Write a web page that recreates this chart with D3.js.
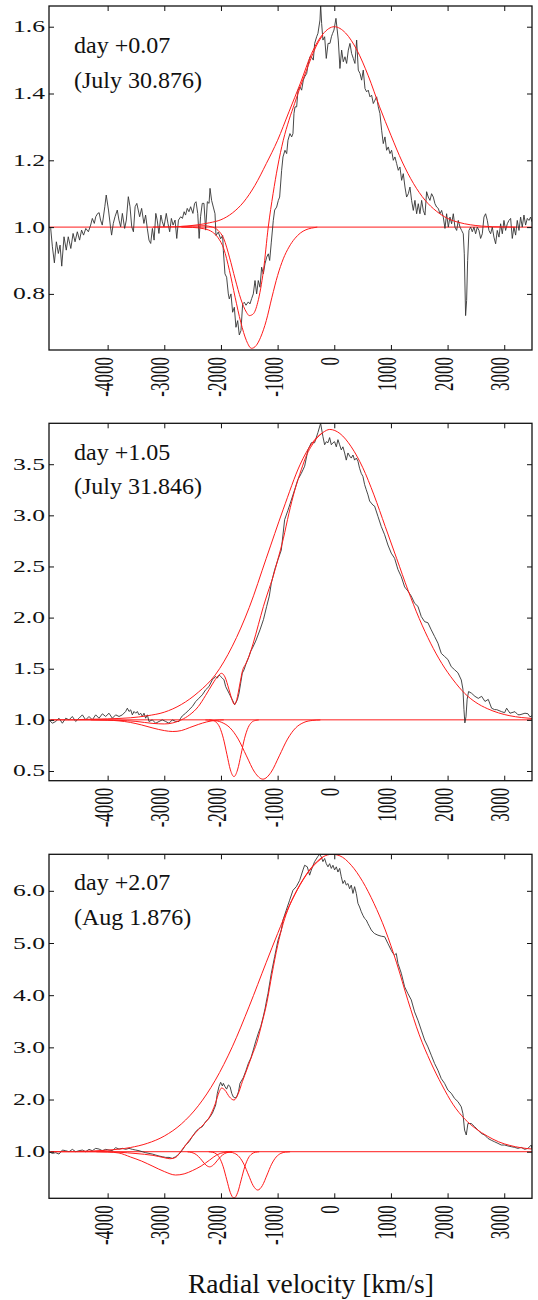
<!DOCTYPE html>
<html><head><meta charset="utf-8">
<script src="https://cdn.jsdelivr.net/npm/d3@7"></script>
<style>body{margin:0;background:#fff}svg{display:block}</style>
</head><body><svg id="c" width="538" height="1300"></svg>
<script>
// ---------- DATA (velocity km/s, normalized flux) ----------
const xTicks = [-4000,-3000,-2000,-1000,0,1000,2000,3000];
const p1YTicks = [0.8,1.0,1.2,1.4,1.6];
const p2YTicks = [0.5,1.0,1.5,2.0,2.5,3.0,3.5];
const p3YTicks = [1.0,2.0,3.0,4.0,5.0,6.0];
const p1Label = ["day +0.07","(July 30.876)"];
const p2Label = ["day +1.05","(July 31.846)"];
const p3Label = ["day +2.07","(Aug 1.876)"];
const xTitle = "Radial velocity [km/s]";

const p1Spectrum = [[-5030,1.001],[-5005,0.996],[-4975,0.941],[-4940,0.893],[-4905,0.956],[-4870,0.921],[-4840,0.946],[-4810,0.883],[-4770,0.971],[-4730,0.931],[-4695,0.971],[-4650,0.936],[-4610,0.981],[-4575,0.956],[-4535,0.986],[-4495,0.961],[-4460,0.991],[-4425,0.976],[-4385,0.996],[-4340,0.986],[-4300,1.006],[-4270,1.026],[-4235,1.011],[-4210,1.031],[-4175,1.041],[-4150,1.043],[-4125,1.021],[-4095,1.006],[-4050,1.061],[-4025,1.096],[-3985,1.051],[-3950,1.001],[-3930,0.976],[-3900,1.011],[-3870,1.031],[-3830,1.051],[-3800,1.021],[-3770,1.001],[-3740,1.041],[-3700,0.996],[-3670,1.021],[-3635,1.091],[-3605,1.061],[-3575,1.001],[-3545,0.986],[-3515,1.061],[-3485,1.071],[-3460,1.051],[-3435,1.031],[-3400,1.056],[-3360,1.011],[-3330,1.036],[-3300,0.996],[-3270,0.961],[-3240,0.951],[-3210,0.996],[-3180,0.961],[-3150,1.041],[-3125,1.021],[-3095,0.981],[-3060,1.036],[-3035,1.016],[-3005,1.001],[-2965,1.041],[-2935,1.011],[-2905,0.986],[-2875,1.026],[-2845,1.006],[-2810,1.021],[-2780,0.966],[-2750,1.021],[-2710,1.031],[-2680,1.026],[-2650,1.046],[-2625,1.036],[-2595,1.056],[-2565,1.046],[-2535,1.061],[-2495,1.041],[-2465,1.071],[-2440,1.076],[-2410,1.041],[-2385,0.966],[-2360,1.031],[-2330,1.071],[-2300,1.071],[-2270,0.991],[-2240,1.076],[-2210,1.071],[-2193,1.116],[-2165,1.08],[-2135,1.06],[-2105,1.04],[-2088,0.975],[-2047,0.985],[-2005,0.965],[-1970,0.975],[-1958,0.93],[-1929,0.86],[-1900,0.85],[-1870,0.80],[-1853,0.785],[-1823,0.80],[-1794,0.745],[-1764,0.76],[-1735,0.70],[-1705,0.72],[-1676,0.677],[-1647,0.69],[-1617,0.77],[-1588,0.775],[-1558,0.766],[-1517,0.776],[-1488,0.77],[-1458,0.786],[-1429,0.80],[-1399,0.84],[-1370,0.80],[-1341,0.84],[-1311,0.82],[-1282,0.88],[-1252,0.86],[-1223,0.89],[-1193,0.91],[-1164,0.92],[-1140,0.90],[-1111,0.955],[-1076,1.02],[-1052,1.051],[-1017,1.06],[-987,1.08],[-964,1.09],[-929,1.17],[-905,1.21],[-870,1.23],[-840,1.22],[-817,1.26],[-782,1.28],[-752,1.27],[-729,1.28],[-711,1.34],[-693,1.36],[-664,1.36],[-640,1.41],[-605,1.42],[-576,1.41],[-546,1.44],[-523,1.45],[-487,1.46],[-464,1.485],[-429,1.51],[-406,1.51],[-370,1.50],[-346,1.55],[-311,1.57],[-288,1.58],[-252,1.62],[-240,1.665],[-223,1.61],[-200,1.56],[-170,1.57],[-141,1.505],[-110,1.55],[-76,1.55],[-50,1.57],[-29,1.58],[-5,1.59],[30,1.625],[71,1.56],[100,1.475],[130,1.53],[159,1.495],[189,1.51],[218,1.49],[248,1.53],[277,1.55],[306,1.52],[336,1.505],[365,1.49],[395,1.56],[424,1.47],[454,1.46],[483,1.44],[512,1.47],[542,1.415],[571,1.405],[600,1.41],[630,1.39],[659,1.395],[689,1.37],[718,1.38],[748,1.39],[777,1.36],[806,1.34],[836,1.29],[865,1.25],[895,1.27],[924,1.23],[953,1.24],[983,1.22],[1012,1.23],[1042,1.20],[1071,1.21],[1101,1.19],[1130,1.17],[1159,1.18],[1189,1.14],[1218,1.16],[1248,1.12],[1277,1.09],[1307,1.10],[1336,1.12],[1365,1.08],[1395,1.05],[1424,1.08],[1454,1.04],[1483,1.07],[1512,1.04],[1542,1.08],[1571,1.05],[1601,1.036],[1630,1.106],[1659,1.09],[1689,1.08],[1718,1.10],[1748,1.09],[1777,1.07],[1807,1.06],[1836,1.056],[1866,1.04],[1895,1.05],[1924,1.03],[1954,0.996],[1983,1.04],[2013,1.00],[2042,1.03],[2071,1.01],[2101,1.04],[2130,1.00],[2160,0.99],[2189,1.02],[2219,1.00],[2248,0.99],[2277,0.98],[2295,0.92],[2318,0.735],[2336,0.78],[2354,0.90],[2377,0.99],[2407,1.00],[2436,0.986],[2466,1.00],[2495,0.98],[2524,1.00],[2554,0.99],[2583,0.966],[2613,0.98],[2642,1.03],[2671,1.04],[2701,1.02],[2730,0.99],[2760,0.98],[2789,1.00],[2818,0.97],[2848,0.95],[2877,0.99],[2907,0.97],[2936,1.01],[2966,0.98],[2995,1.02],[3024,0.99],[3054,1.01],[3083,1.02],[3113,1.026],[3142,0.966],[3171,1.00],[3201,0.976],[3230,1.02],[3260,0.99],[3289,1.03],[3318,1.00],[3348,1.036],[3377,1.006],[3407,1.026],[3436,1.02],[3465,1.03],[3489,1.016]];
const p1Emission = [[-3200,1.0],[-2800,1.001],[-2600,1.003],[-2400,1.007],[-2200,1.013],[-2000,1.022],[-1800,1.042],[-1600,1.075],[-1400,1.125],[-1200,1.19],[-1000,1.26],[-800,1.345],[-600,1.43],[-400,1.52],[-200,1.578],[0,1.60],[200,1.581],[400,1.53],[600,1.453],[800,1.36],[1000,1.275],[1200,1.195],[1400,1.130],[1600,1.081],[1800,1.048],[2000,1.026],[2200,1.014],[2400,1.007],[2600,1.003],[2800,1.001],[3200,1.0]];
const p1Absorption = [[-2700,1.0],[-2500,0.999],[-2300,0.995],[-2150,0.985],[-2050,0.968],[-1950,0.935],[-1850,0.87],[-1750,0.79],[-1650,0.715],[-1550,0.66],[-1460,0.637],[-1380,0.645],[-1300,0.67],[-1200,0.72],[-1100,0.79],[-1000,0.855],[-900,0.905],[-800,0.94],[-700,0.965],[-600,0.982],[-500,0.992],[-400,0.997],[-300,1.0]];
const p1Sum = [[-2700,1.002],[-2500,1.003],[-2300,1.004],[-2150,1.0],[-2050,0.99],[-1950,0.965],[-1850,0.91],[-1750,0.845],[-1650,0.785],[-1550,0.745],[-1500,0.735],[-1430,0.74],[-1350,0.775],[-1250,0.87],[-1165,1.0],[-1080,1.10],[-1000,1.18],[-900,1.26],[-800,1.32],[-700,1.37],[-600,1.42],[-500,1.465],[-400,1.51],[-300,1.548],[-200,1.575]];

const p2Spectrum = [[-5034,1.0],[-4976,0.967],[-4917,0.984],[-4858,1.016],[-4799,0.967],[-4740,1.016],[-4681,1.0],[-4623,1.033],[-4564,0.984],[-4505,1.016],[-4446,1.049],[-4388,1.0],[-4329,1.033],[-4270,1.0],[-4211,1.049],[-4152,1.016],[-4093,1.059],[-4035,1.033],[-3976,1.065],[-3917,1.016],[-3858,1.049],[-3799,1.033],[-3740,1.049],[-3682,1.082],[-3652,1.114],[-3623,1.082],[-3593,1.098],[-3564,1.049],[-3535,1.082],[-3505,1.065],[-3476,1.082],[-3446,1.049],[-3417,1.065],[-3387,1.033],[-3358,1.065],[-3329,1.016],[-3299,1.049],[-3270,0.984],[-3211,1.0],[-3152,0.967],[-3093,0.984],[-3035,1.0],[-2976,0.984],[-2917,0.967],[-2858,1.0],[-2799,0.984],[-2740,0.984],[-2711,1.016],[-2682,1.039],[-2623,1.065],[-2564,1.098],[-2505,1.13],[-2446,1.179],[-2387,1.212],[-2329,1.245],[-2270,1.294],[-2211,1.326],[-2152,1.391],[-2123,1.408],[-2093,1.424],[-2064,1.408],[-2034,1.44],[-2005,1.424],[-1975,1.408],[-1946,1.391],[-1917,1.326],[-1858,1.261],[-1799,1.196],[-1758,1.147],[-1711,1.196],[-1681,1.261],[-1652,1.359],[-1623,1.457],[-1593,1.489],[-1564,1.538],[-1505,1.62],[-1476,1.669],[-1446,1.70],[-1387,1.77],[-1311,1.88],[-1250,1.98],[-1193,2.11],[-1147,2.21],[-1111,2.337],[-1052,2.468],[-994,2.566],[-935,2.66],[-876,2.957],[-817,3.05],[-758,3.15],[-699,3.25],[-641,3.35],[-582,3.41],[-523,3.48],[-464,3.64],[-405,3.71],[-347,3.71],[-288,3.81],[-241,3.90],[-200,3.77],[-170,3.69],[-141,3.72],[-111,3.71],[-82,3.76],[-52,3.69],[-23,3.71],[6,3.72],[36,3.67],[65,3.74],[95,3.69],[124,3.64],[153,3.67],[183,3.61],[212,3.54],[242,3.61],[271,3.58],[300,3.56],[330,3.59],[359,3.54],[389,3.56],[418,3.53],[447,3.46],[477,3.41],[506,3.38],[536,3.30],[565,3.25],[595,3.20],[624,3.14],[653,3.12],[683,3.10],[712,3.09],[771,2.99],[830,2.89],[889,2.81],[947,2.71],[1006,2.63],[1065,2.58],[1124,2.47],[1183,2.40],[1242,2.30],[1300,2.26],[1359,2.21],[1418,2.14],[1477,2.11],[1536,2.01],[1595,1.96],[1653,1.95],[1712,1.88],[1771,1.815],[1830,1.75],[1889,1.65],[1947,1.62],[2006,1.59],[2065,1.52],[2124,1.49],[2183,1.46],[2242,1.39],[2271,1.30],[2289,1.10],[2305,0.97],[2325,1.03],[2345,1.20],[2371,1.277],[2424,1.26],[2483,1.23],[2542,1.21],[2601,1.23],[2660,1.18],[2718,1.20],[2777,1.114],[2830,1.10],[2866,1.10],[2954,1.08],[3007,1.07],[3042,1.114],[3101,1.065],[3189,1.08],[3242,1.05],[3278,1.05],[3366,1.065],[3418,1.06],[3454,1.03],[3489,1.04]];
const p2Emission = [[-4500,1.003],[-4000,1.01],[-3600,1.02],[-3300,1.04],[-3000,1.075],[-2700,1.15],[-2400,1.27],[-2100,1.44],[-1800,1.72],[-1500,2.10],[-1200,2.58],[-900,3.06],[-600,3.50],[-400,3.70],[-200,3.81],[-80,3.84],[100,3.80],[300,3.67],[500,3.47],[700,3.20],[900,2.89],[1100,2.58],[1300,2.27],[1500,1.99],[1700,1.75],[1900,1.55],[2100,1.39],[2300,1.26],[2500,1.17],[2700,1.11],[2900,1.068],[3100,1.04],[3300,1.023],[3500,1.013]];
const p2AbsA = [[-4300,1.0],[-4000,0.997],[-3800,0.99],[-3600,0.975],[-3400,0.95],[-3200,0.92],[-3000,0.895],[-2850,0.886],[-2700,0.895],[-2550,0.925],[-2400,0.955],[-2250,0.98],[-2100,0.995],[-1950,1.0]];
const p2AbsB = [[-2208,0.999],[-2145,0.994],[-2083,0.976],[-2020,0.925],[-1958,0.82],[-1895,0.663],[-1833,0.51],[-1770,0.445],[-1708,0.51],[-1645,0.663],[-1583,0.82],[-1520,0.925],[-1458,0.976],[-1395,0.994],[-1333,0.999]];
const p2AbsC = [[-2275,0.999],[-2130,0.994],[-1985,0.975],[-1840,0.922],[-1695,0.812],[-1550,0.648],[-1405,0.488],[-1260,0.42],[-1115,0.488],[-970,0.648],[-825,0.812],[-680,0.922],[-535,0.975],[-390,0.994],[-245,0.999]];
const p2Sum = [[-5000,1.0],[-4300,1.0],[-3800,0.995],[-3500,0.985],[-3200,0.965],[-3000,0.96],[-2850,0.97],[-2700,1.0],[-2550,1.05],[-2400,1.13],[-2270,1.24],[-2150,1.35],[-2050,1.43],[-1990,1.455],[-1930,1.42],[-1860,1.30],[-1800,1.19],[-1760,1.15],[-1720,1.20],[-1670,1.34],[-1620,1.48],[-1560,1.55],[-1500,1.63],[-1430,1.75],[-1340,1.93],[-1250,2.11],[-1170,2.25],[-1080,2.40],[-1000,2.56],[-900,2.77],[-800,3.02],[-700,3.24],[-580,3.45],[-480,3.60],[-400,3.68],[-300,3.76],[-220,3.80]];

const p3Spectrum = [[-5034,1.0],[-4976,0.968],[-4917,0.981],[-4858,0.955],[-4799,1.032],[-4740,1.019],[-4681,1.0],[-4623,1.045],[-4564,1.0],[-4505,1.019],[-4446,1.032],[-4388,1.0],[-4329,1.045],[-4270,1.019],[-4211,1.064],[-4152,1.051],[-4093,1.019],[-4035,1.045],[-3976,1.032],[-3917,1.019],[-3858,1.077],[-3799,1.051],[-3740,1.064],[-3682,1.045],[-3623,1.064],[-3564,1.045],[-3505,1.032],[-3446,1.019],[-3387,1.0],[-3329,0.981],[-3270,0.968],[-3211,0.955],[-3152,0.936],[-3093,0.917],[-3035,0.904],[-2976,0.891],[-2917,0.891],[-2858,0.872],[-2799,0.904],[-2740,0.955],[-2682,1.032],[-2623,1.128],[-2564,1.19],[-2505,1.29],[-2446,1.383],[-2387,1.447],[-2329,1.479],[-2270,1.575],[-2211,1.64],[-2152,1.735],[-2093,1.894],[-2064,2.117],[-2034,2.25],[-2005,2.33],[-1975,2.26],[-1958,2.31],[-1930,2.25],[-1900,2.2],[-1870,2.28],[-1840,2.25],[-1810,2.12],[-1782,2.05],[-1752,2.03],[-1723,2.05],[-1690,2.15],[-1664,2.31],[-1605,2.42],[-1560,2.55],[-1517,2.69],[-1470,2.80],[-1429,2.95],[-1385,3.12],[-1341,3.27],[-1297,3.40],[-1253,3.59],[-1220,3.75],[-1193,3.91],[-1170,4.03],[-1111,4.42],[-1052,4.74],[-994,5.05],[-935,5.25],[-905,5.44],[-847,5.63],[-788,5.82],[-729,6.01],[-670,6.08],[-611,6.20],[-552,6.40],[-523,6.49],[-476,6.46],[-435,6.30],[-405,6.40],[-347,6.56],[-288,6.66],[-258,6.70],[-229,6.65],[-200,6.56],[-170,6.62],[-141,6.52],[-111,6.46],[-82,6.52],[-52,6.43],[-23,6.49],[6,6.40],[36,6.46],[65,6.36],[95,6.43],[124,6.27],[153,6.14],[183,6.20],[212,6.11],[242,6.14],[271,6.04],[300,6.11],[330,5.95],[359,6.08],[389,5.95],[418,5.76],[447,5.69],[477,5.60],[506,5.53],[536,5.47],[565,5.44],[595,5.37],[624,5.31],[653,5.25],[683,5.21],[712,5.18],[771,5.15],[830,5.13],[889,5.12],[947,4.99],[1006,4.86],[1036,4.80],[1065,4.77],[1094,4.80],[1124,4.61],[1183,4.42],[1242,4.16],[1300,4.03],[1359,3.91],[1418,3.68],[1477,3.52],[1536,3.33],[1595,3.14],[1653,3.01],[1712,2.85],[1771,2.69],[1830,2.56],[1889,2.40],[1947,2.31],[2006,2.18],[2065,2.12],[2124,2.02],[2183,1.96],[2242,1.86],[2271,1.73],[2300,1.415],[2330,1.32],[2359,1.54],[2418,1.54],[2477,1.48],[2536,1.415],[2595,1.35],[2654,1.32],[2712,1.255],[2771,1.22],[2830,1.19],[2889,1.16],[2948,1.128],[3007,1.128],[3065,1.11],[3124,1.096],[3183,1.083],[3242,1.064],[3301,1.083],[3360,1.045],[3418,1.064],[3477,1.128],[3489,1.05]];
const p3Emission = [[-4500,1.007],[-4000,1.03],[-3600,1.08],[-3300,1.16],[-3000,1.30],[-2700,1.53],[-2400,1.88],[-2100,2.37],[-1800,3.01],[-1500,3.79],[-1200,4.63],[-1000,5.18],[-800,5.70],[-600,6.13],[-400,6.45],[-200,6.65],[-40,6.70],[100,6.67],[300,6.49],[500,6.18],[700,5.76],[900,5.25],[1100,4.62],[1300,3.90],[1500,3.24],[1700,2.72],[1900,2.28],[2100,1.90],[2300,1.63],[2500,1.44],[2700,1.30],[2900,1.19],[3100,1.12],[3300,1.075],[3500,1.05]];
const p3AbsA = [[-4200,1.0],[-4000,0.995],[-3800,0.975],[-3600,0.90],[-3400,0.82],[-3200,0.72],[-3000,0.62],[-2800,0.553],[-2650,0.575],[-2500,0.64],[-2350,0.725],[-2200,0.84],[-2075,0.937],[-1950,0.985],[-1800,1.0]];
const p3AbsB = [[-2590,0.997],[-2525,0.987],[-2460,0.961],[-2395,0.906],[-2330,0.824],[-2265,0.744],[-2200,0.71],[-2135,0.744],[-2070,0.824],[-2005,0.906],[-1940,0.961],[-1875,0.987],[-1810,0.997]];
const p3AbsC = [[-2215,0.998],[-2150,0.99],[-2087,0.961],[-2024,0.88],[-1960,0.711],[-1897,0.46],[-1834,0.215],[-1770,0.11],[-1706,0.215],[-1643,0.46],[-1580,0.711],[-1516,0.88],[-1452,0.961],[-1389,0.99],[-1325,0.998]];
const p3AbsD = [[-1920,0.998],[-1839,0.992],[-1758,0.968],[-1676,0.90],[-1595,0.761],[-1513,0.554],[-1432,0.351],[-1350,0.265],[-1269,0.351],[-1187,0.554],[-1106,0.761],[-1024,0.90],[-943,0.968],[-861,0.992],[-780,0.998]];
const p3Sum = [[-5000,1.0],[-4200,1.0],[-3800,0.99],[-3500,0.965],[-3200,0.93],[-3000,0.885],[-2900,0.865],[-2800,0.89],[-2700,1.02],[-2600,1.16],[-2500,1.30],[-2400,1.42],[-2300,1.53],[-2200,1.67],[-2100,1.92],[-2030,2.15],[-1990,2.22],[-1930,2.18],[-1850,2.05],[-1770,1.99],[-1700,2.10],[-1620,2.35],[-1546,2.565],[-1450,2.85],[-1370,3.08],[-1280,3.45],[-1193,3.84],[-1100,4.40],[-1000,4.95],[-900,5.38],[-800,5.69],[-700,5.92],[-600,6.12],[-400,6.44],[-200,6.64]];

// ---------- LAYOUT ----------
const SERIF = "Liberation Serif";
const svg = d3.select("#c");
const left = 49, right = 532;
const x = d3.scaleLinear().domain([-5035, 3490]).range([left, right]);
const panels = [
  {top:6, bottom:350, yDomain:[0.632,1.662], yTicks:p1YTicks, label:p1Label, labelY:[53,88], spectrum:p1Spectrum, models:[p1Emission,p1Absorption,p1Sum]},
  {top:423.3, bottom:780.7, yDomain:[0.405,3.90], yTicks:p2YTicks, label:p2Label, labelY:[460,494], spectrum:p2Spectrum, models:[p2Emission,p2AbsA,p2AbsB,p2AbsC,p2Sum]},
  {top:854.3, bottom:1198.3, yDomain:[0.107,6.70], yTicks:p3YTicks, label:p3Label, labelY:[890,925], spectrum:p3Spectrum, models:[p3Emission,p3AbsA,p3AbsB,p3AbsC,p3AbsD,p3Sum]}
];
const red = "#ff1a1a";
const tickLen = 5;

panels.forEach((p, i) => {
  const y = d3.scaleLinear().domain(p.yDomain).range([p.bottom, p.top]);
  const g = svg.append("g");
  const clipId = "clip" + i;
  svg.append("defs").append("clipPath").attr("id", clipId)
    .append("rect").attr("x", left).attr("y", p.top).attr("width", right-left).attr("height", p.bottom-p.top);
  const plot = g.append("g").attr("clip-path", `url(#${clipId})`);

  plot.append("line").attr("x1", left).attr("x2", right).attr("y1", y(1)).attr("y2", y(1))
    .attr("stroke", red).attr("stroke-width", 1);

  const smooth = d3.line().x(d => x(d[0])).y(d => y(d[1])).curve(d3.curveMonotoneX);
  const raw = d3.line().x(d => x(d[0])).y(d => y(d[1]));

  plot.append("path").attr("d", raw(p.spectrum)).attr("fill","none")
    .attr("stroke","#333").attr("stroke-width",0.9).attr("stroke-linejoin","round");
  p.models.forEach(m => {
    plot.append("path").attr("d", smooth(m)).attr("fill","none")
      .attr("stroke", red).attr("stroke-width", 1);
  });

  const axB = d3.axisBottom(x).tickValues(xTicks).tickSizeInner(-tickLen).tickSizeOuter(0).tickFormat("");
  const axT = d3.axisTop(x).tickValues(xTicks).tickSizeInner(-tickLen).tickSizeOuter(0).tickFormat("");
  const axL = d3.axisLeft(y).tickValues(p.yTicks).tickSizeInner(-tickLen).tickSizeOuter(0).tickFormat("");
  const axR = d3.axisRight(y).tickValues(p.yTicks).tickSizeInner(-tickLen).tickSizeOuter(0).tickFormat("");
  [[axB,`translate(0,${p.bottom})`],[axT,`translate(0,${p.top})`],[axL,`translate(${left},0)`],[axR,`translate(${right},0)`]]
    .forEach(([ax,t]) => {
      const a = g.append("g").attr("transform", t).call(ax);
      a.select(".domain").remove();
      a.selectAll("line").attr("stroke","#111").attr("stroke-width",1);
    });

  g.append("rect").attr("x", left).attr("y", p.top).attr("width", right-left).attr("height", p.bottom-p.top)
    .attr("fill","none").attr("stroke","#111").attr("stroke-width",1.3);

  g.selectAll(".yl").data(p.yTicks).enter().append("text")
    .attr("transform", d => `translate(45,${y(d)+5.5}) scale(1.6,1)`)
    .attr("text-anchor","end").attr("font-family",SERIF).attr("font-size",16).attr("fill","#111")
    .text(d => d3.format(".1f")(d));

  g.selectAll(".xl").data(xTicks).enter().append("text")
    .attr("transform", d => `translate(${x(d)-4},${p.bottom+7}) scale(1.6,1) rotate(-90)`)
    .attr("text-anchor","end").attr("dy","0.33em").attr("font-family",SERIF).attr("font-size",17).attr("fill","#111")
    .text(d => String(d));

  g.append("text").attr("x",74).attr("y",p.labelY[0]).attr("font-family",SERIF).attr("font-size",24).attr("fill","#111").text(p.label[0]);
  g.append("text").attr("x",74).attr("y",p.labelY[1]).attr("font-family",SERIF).attr("font-size",24).attr("fill","#111").text(p.label[1]);
});

svg.append("text").attr("x",311).attr("y",1293).attr("text-anchor","middle")
  .attr("font-family",SERIF).attr("font-size",27.5).attr("fill","#111").text(xTitle);
</script></body></html>
